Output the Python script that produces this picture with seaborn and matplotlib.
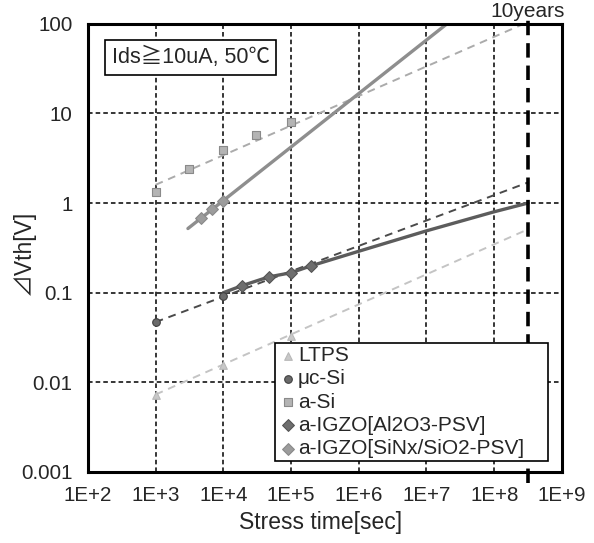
import numpy as np
import pandas as pd
import matplotlib
matplotlib.use("Agg")
import matplotlib.pyplot as plt
import seaborn as sns

# ---- measured threshold-voltage shifts ----
ltps_t = [1e3, 1e4, 1e5]
ltps_dv = [0.0073, 0.0155, 0.033]

ucsi_t = [1e3, 1e4]
ucsi_dv = [0.0475, 0.093]

asi_t = [1e3, 3.1e3, 1e4, 3e4, 1e5]
asi_dv = [1.33, 2.4, 3.9, 5.7, 8.0]

igzo_al_t = [1.9e4, 4.7e4, 1e5, 2e5]
igzo_al_dv = [0.12, 0.15, 0.167, 0.20]

igzo_sin_t = [4.6e3, 6.8e3, 1e4]
igzo_sin_dv = [0.69, 0.85, 1.05]

# ---- extrapolated trends ----
ten_years = 3.1536e8
ltps_fit_t = [1e3, ten_years]
ltps_fit_dv = [0.0073, 0.51]
ucsi_fit_t = [1e3, ten_years]
ucsi_fit_dv = [0.047, 1.7]
asi_fit_t = [1e3, ten_years]
asi_fit_dv = [1.6, 105]
igzo_al_fit_t = [1e4, 1.9e4, 4.7e4, 1e5, 2e5, 1e6, 1e7, 1e8, ten_years]
igzo_al_fit_dv = [0.10, 0.12, 0.15, 0.167, 0.20, 0.29, 0.49, 0.80, 1.0]
igzo_sin_fit_t = [3e3, 2e7]
igzo_sin_fit_dv = [0.52, 100]

x_ticks = [1e2, 1e3, 1e4, 1e5, 1e6, 1e7, 1e8, 1e9]
x_tick_labels = ["1E+2", "1E+3", "1E+4", "1E+5", "1E+6", "1E+7", "1E+8", "1E+9"]
y_ticks = [0.001, 0.01, 0.1, 1, 10, 100]
y_tick_labels = ["0.001", "0.01", "0.1", "1", "10", "100"]

sns.set_style("white")
plt.rcParams["font.family"] = ["Liberation Sans", "DejaVu Sans", "Noto Sans CJK JP"]

fig = plt.figure(figsize=(5.94, 5.43), dpi=100)
ax = fig.add_axes([0.148, 0.131, 0.798, 0.825])
ax.set_xscale("log")
ax.set_yscale("log")
ax.set_xlim(1e2, 1e9)
ax.set_ylim(1e-3, 1e2)

# grid
for xv in x_ticks[1:-1]:
    ax.axvline(xv, color="black", lw=1.1, ls=(0, (3, 2)), zorder=1)
for yv in y_ticks[1:-1]:
    ax.axhline(yv, color="black", lw=1.1, ls=(0, (3, 2)), zorder=1)

dash = (0, (4, 3))

def line(t, v, color, lw, ls, z=2):
    sns.lineplot(x=t, y=v, ax=ax, color=color, lw=lw, ls=ls, zorder=z,
                 legend=False, sort=False, estimator=None)

line(ltps_fit_t, ltps_fit_dv, "#c4c4c4", 1.4, dash)
line(ucsi_fit_t, ucsi_fit_dv, "#4a4a4a", 1.4, dash)
line(asi_fit_t, asi_fit_dv, "#ababab", 1.4, dash)
line(igzo_al_fit_t, igzo_al_fit_dv, "#5c5c5c", 2.4, "-")
line(igzo_sin_fit_t, igzo_sin_fit_dv, "#8e8e8e", 2.4, "-")

def points(t, v, marker, face, edge, size, label):
    sns.scatterplot(x=t, y=v, ax=ax, marker=marker, color=face, edgecolor=edge,
                    linewidth=0.8, s=size, zorder=4, label=label)

points(ltps_t, ltps_dv, "^", "#c8c8c8", "#b8b8b8", 30, "LTPS")
points(ucsi_t, ucsi_dv, "o", "#6a6a6a", "#404040", 30, "μc-Si")
points(asi_t, asi_dv, "s", "#b4b4b4", "#8a8a8a", 30, "a-Si")
points(igzo_al_t, igzo_al_dv, "D", "#6e6e6e", "#555555", 36, "a-IGZO[Al2O3-PSV]")
points(igzo_sin_t, igzo_sin_dv, "D", "#9c9c9c", "#8a8a8a", 36, "a-IGZO[SiNx/SiO2-PSV]")

# 10-year reference
ax.plot([ten_years, ten_years], [7.5e-4, 130], color="black", lw=2.6,
        ls=(0, (4, 2.2)), clip_on=False, zorder=5)
ax.text(ten_years, 107, "10years", ha="center", va="bottom", fontsize=15)

ax.set_xticks(x_ticks)
ax.set_xticklabels(x_tick_labels)
ax.set_yticks(y_ticks)
ax.set_yticklabels(y_tick_labels)
ax.minorticks_off()
ax.tick_params(axis="both", labelsize=14.8, length=0)
ax.tick_params(axis="x", pad=10)
ax.tick_params(axis="y", pad=11)
ax.set_xlabel("Stress time[sec]", fontsize=16.5)
ax.set_ylabel("⊿Vth[V]", fontsize=16.5,
              family=["Liberation Sans", "Noto Sans CJK JP"])
ax.xaxis.set_label_coords(0.49, -0.112)
ax.yaxis.set_label_coords(-0.137, 0.489)
ax.xaxis.label.set_va("center")
ax.yaxis.label.set_va("center")

for sp in ax.spines.values():
    sp.set_color("black")
    sp.set_linewidth(2.2)
    sp.set_zorder(6)

ax.text(0.05, 0.925, "Ids≧10uA, 50℃", transform=ax.transAxes, fontsize=15.5,
        ha="left", va="center",
        family=["Liberation Sans", "Noto Sans CJK JP"],
        bbox=dict(boxstyle="square,pad=0.3", fc="white", ec="black", lw=1.2),
        zorder=7)

leg = ax.legend(loc="lower left", bbox_to_anchor=(0.395, 0.024, 0.575, 0.255),
                mode="expand", frameon=True, fancybox=False, fontsize=15,
                handletextpad=0.05, handlelength=0.9, borderpad=0.15,
                labelspacing=0.2, borderaxespad=0, framealpha=1)
leg.get_frame().set_edgecolor("black")
leg.get_frame().set_linewidth(1.2)
leg.set_zorder(7)

fig.savefig("out.png", dpi=100)
